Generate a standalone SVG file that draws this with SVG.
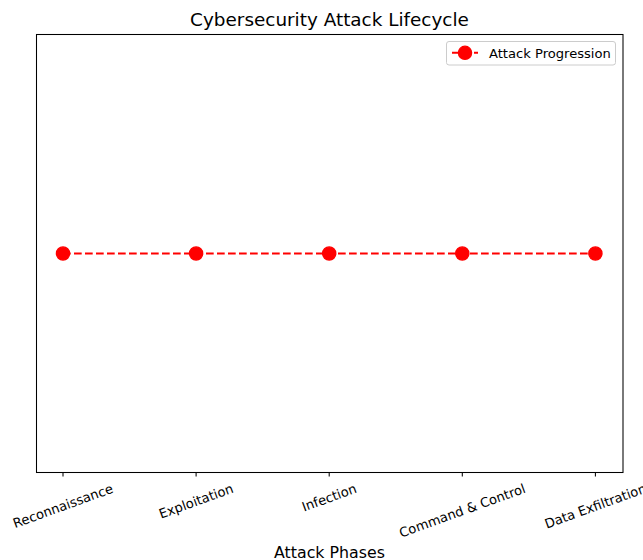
<svg xmlns="http://www.w3.org/2000/svg" width="643" height="560" viewBox="0 0 643 560">
<style>
text{font-family:"DejaVu Sans","Liberation Sans",sans-serif;fill:#000}
.tick{font-size:13.1px;text-anchor:middle}
.mk{fill:#ff0000;stroke:#ff0000;stroke-width:1.3}
.tk{stroke:#000;stroke-width:1.05}
</style>
<rect width="643" height="560" fill="#fff"/>
<text x="329.5" y="26" font-size="18.4" text-anchor="middle">Cybersecurity Attack Lifecycle</text>
<rect x="36.5" y="34.5" width="586.5" height="438" fill="none" stroke="#000" stroke-width="1.05"/>
<g id="ticks">
<line class="tk" x1="63" y1="472.5" x2="63" y2="476.5"/>
<line class="tk" x1="196.1" y1="472.5" x2="196.1" y2="476.5"/>
<line class="tk" x1="329.2" y1="472.5" x2="329.2" y2="476.5"/>
<line class="tk" x1="462.3" y1="472.5" x2="462.3" y2="476.5"/>
<line class="tk" x1="595.4" y1="472.5" x2="595.4" y2="476.5"/>
</g>
<g id="ticklabels">
<text class="tick" transform="translate(63,506) rotate(-20)" y="4.5">Reconnaissance</text>
<text class="tick" transform="translate(196.1,501.2) rotate(-20)" y="4.5">Exploitation</text>
<text class="tick" transform="translate(329.2,497.7) rotate(-20)" y="4.5">Infection</text>
<text class="tick" transform="translate(462.3,510.7) rotate(-20)" y="4.5">Command &amp; Control</text>
<text class="tick" transform="translate(595.4,506.2) rotate(-20)" y="4.5">Data Exfiltration</text>
</g>
<text x="329.5" y="557.5" font-size="15.8" text-anchor="middle">Attack Phases</text>
<g id="connectors">
<polyline points="63,253.5 196.1,253.5 329.2,253.5 462.3,253.5 595.4,253.5" fill="none" stroke="#ff0000" stroke-width="2" stroke-dasharray="7.7,3.3"/>
</g>
<g id="n1"><circle class="mk" cx="63" cy="253.5" r="6.6"/></g>
<g id="n2"><circle class="mk" cx="196.1" cy="253.5" r="6.6"/></g>
<g id="n3"><circle class="mk" cx="329.2" cy="253.5" r="6.6"/></g>
<g id="n4"><circle class="mk" cx="462.3" cy="253.5" r="6.6"/></g>
<g id="n5"><circle class="mk" cx="595.4" cy="253.5" r="6.6"/></g>
<g id="legend">
<rect x="446.5" y="41.5" width="169" height="23.5" rx="2.5" fill="#fff" fill-opacity="0.8" stroke="#cccccc" stroke-width="1"/>
<line x1="452" y1="52.8" x2="478" y2="52.8" stroke="#ff0000" stroke-width="2" stroke-dasharray="7.7,3.3"/>
<circle class="mk" cx="465" cy="52.8" r="6.6"/>
<text x="489" y="57.5" font-size="13.1">Attack Progression</text>
</g>
</svg>
